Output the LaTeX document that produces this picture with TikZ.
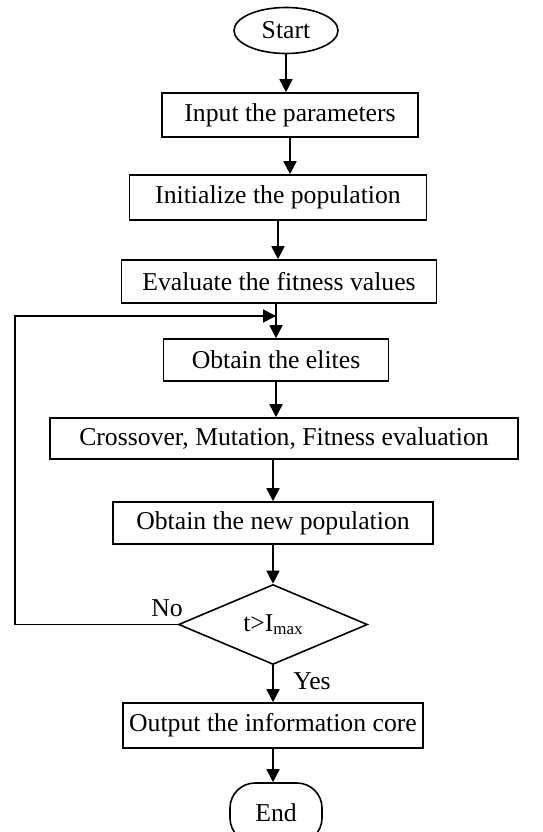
\documentclass[tikz,border=0pt]{standalone}
\usepackage{fontspec}
\setmainfont{Liberation Serif}
\usetikzlibrary{shapes.geometric,% ellipse and diamond nodes
arrows.meta}
\tikzset{every node/.style={font=\fontsize{25.7}{30}\selectfont},
  proc/.style={draw,line width=1.6pt,inner sep=0pt},
  term/.style={draw,ellipse,line width=1.6pt,inner sep=0pt},
  decide/.style={draw,diamond,line width=1.6pt,inner sep=0pt},
  flow/.style={-{Triangle[length=13pt,width=13pt]},line width=1.6pt}}

\begin{document}
\begin{tikzpicture}[x=1pt,y=-1pt]
\useasboundingbox (0,0) rectangle (542,832);
% the steps
\node[term,minimum width=104pt,minimum height=46pt] (start) at (286,30.5) {Start};
\node[proc,minimum width=256pt,minimum height=44pt] (input) at (290,115) {Input the parameters};
\node[proc,minimum width=297pt,minimum height=45pt] (init) at (278,197.5) {Initialize the population};
\node[proc,minimum width=315pt,minimum height=43pt] (eval) at (279,281.5) {Evaluate the fitness values};
\node[proc,minimum width=225pt,minimum height=42pt] (elites) at (276,360) {Obtain the elites};
\node[proc,minimum width=468pt,minimum height=41pt] (cross) at (284,438.5) {Crossover, Mutation, Fitness evaluation};
\node[proc,minimum width=320pt,minimum height=42pt] (newpop) at (273,523) {Obtain the new population};
\node[decide,minimum width=189pt,minimum height=75pt] (test) at (273,624.5)
   {t>I\raisebox{-0.3ex}{\fontsize{17}{17}\selectfont max}};
\node[proc,minimum width=300pt,minimum height=45pt] (output) at (273,725.5) {Output the information core};
\node[proc,rounded corners=25pt,minimum width=92pt,minimum height=60pt] (end) at (276,813) {End};
% branch labels
\node (no) at (167,608) {No};
\node (yes) at (312,681) {Yes};
\coordinate (back) at (15,316);
% connectors
\draw[flow] (start.south) -- (start.south |- input.north);
\draw[flow] (input.south) -- (input.south |- init.north);
\draw[flow] (init.south) -- (init.south |- eval.north);
\draw[flow] (elites.north |- eval.south) -- (elites.north);
\draw[flow] (elites.south) -- (elites.south |- cross.north);
\draw[flow] (newpop.north |- cross.south) -- (newpop.north);
\draw[flow] (newpop) -- (test);
\draw[flow] (test) -- (output);
\draw[flow] (output.south) -- (output.south |- end.north);
\draw[flow] (test.west) -| (back) -- (back -| elites.north);
\end{tikzpicture}
\end{document}
